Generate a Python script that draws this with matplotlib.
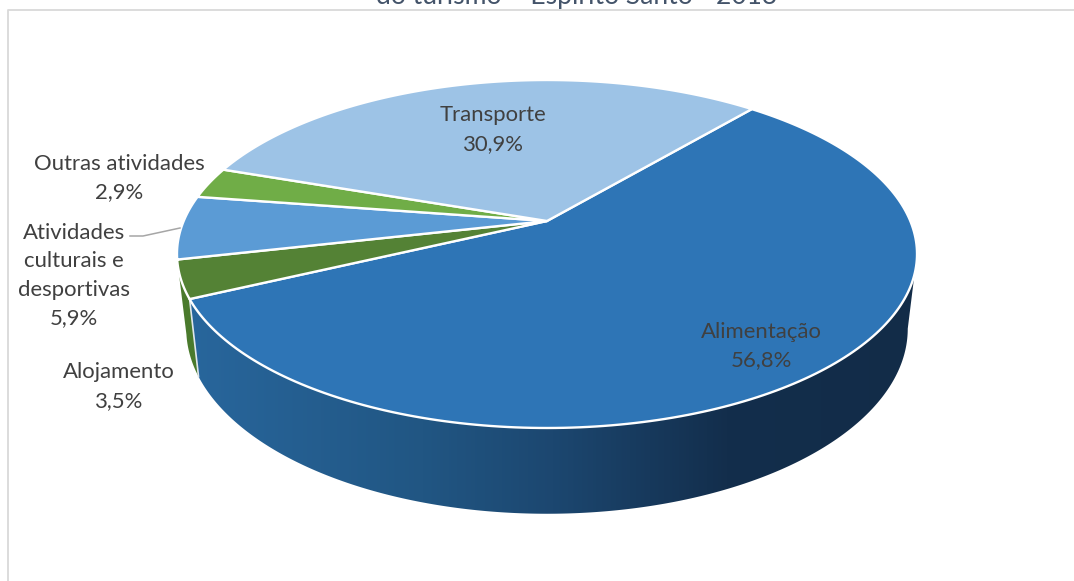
import numpy as np
import matplotlib
matplotlib.use('Agg')
import matplotlib.pyplot as plt
from matplotlib.colors import LinearSegmentedColormap
from matplotlib.patches import Polygon

plt.rcParams['font.family'] = ['Lato', 'DejaVu Sans']

# data, clockwise from the start angle
categories = ['Alimentação', 'Alojamento', 'Atividades\nculturais e\ndesportivas', 'Outras atividades', 'Transporte']
shares = [56.8, 3.5, 5.9, 2.9, 30.9]
value_labels = ['56,8%', '3,5%', '5,9%', '2,9%', '30,9%']
top_colors = ['#2e75b6', '#548235', '#5b9bd5', '#70ad47', '#9dc3e6']
wall_colors = ['#2e75b6', '#4a7a2c', '#5b9bd5', '#70ad47', '#9dc3e6']
title = 'do turismo – Espírito Santo - 2013'

START = 40.2   # degrees clockwise from the back of the pie
CX = 547


def project(ang, top=True):
    # perspective view of the pie disc, ang in degrees clockwise from the back
    a = np.radians(ang)
    u, v = np.sin(a), np.cos(a)
    w = 1 + 0.1897 * v
    if top:
        return CX + 363.3 * u / w, (221 - 125.8 * v) / w
    return CX + 354.2 * u / w, (293.6 - 122.7 * v) / w


fig = plt.figure(figsize=(10.74, 5.81), dpi=100)
ax = fig.add_axes([0, 0, 1, 1])

# chart frame, only left and top show in the crop
ax.plot([8, 8, 1074], [581, 10, 10], color='#d9d9d9', lw=1.3)
ax.text(576.5, 4, title, ha='center', va='baseline', fontsize=19.1, color='#44546a')

edges = START + np.cumsum([0] + shares) * 3.6
wall_end = np.degrees(np.arccos(-0.1897))

# side wall of the big slice, horizontal gradient clipped to its outline
gradient = LinearSegmentedColormap.from_list('wall', [
    (0.0, '#28669c'), (0.32, '#215683'), (0.5, '#1c4770'), (0.74, '#132e4c'), (1.0, '#122c48')])
angs = np.linspace(edges[0] if edges[0] > wall_end else wall_end, edges[1], 300)
angs = angs[angs >= wall_end]
xt, yt = project(angs)
xb, yb = project(angs, False)
outline = Polygon(np.c_[np.r_[xt, xb[::-1]], np.r_[yt, yb[::-1]]], closed=True,
                  transform=ax.transData, facecolor='none', edgecolor='none')
ax.add_patch(outline)
img = ax.imshow(np.linspace(0, 1, 512)[None, :], cmap=gradient, extent=[190, 917, 600, 200],
                aspect='auto', zorder=2)
img.set_clip_path(outline)

# side wall of the small green slice
angs = np.linspace(edges[1], min(edges[2], 360 - wall_end), 60)
xt, yt = project(angs)
xb, yb = project(angs, False)
ax.fill(np.r_[xt, xb[::-1]], np.r_[yt, yb[::-1]], color=wall_colors[1], lw=0, zorder=2)

# white seam between the two wall slices
x0, y0 = project(edges[1])
x1, y1 = project(edges[1], False)
ax.plot([x0, x1], [y0, y1], color='#dfe6ea', lw=1.2, zorder=3)

# top face
for i, (a0, a1) in enumerate(zip(edges[:-1], edges[1:])):
    xs, ys = project(np.linspace(a0, a1, 200))
    ax.fill(np.r_[CX, xs], np.r_[221, ys], facecolor=top_colors[i], edgecolor='white',
            lw=1.7, joinstyle='round', zorder=4)

# labels
text_color = '#404040'
fs = 15.9
spacing = 1.52
positions = [(761, 346), (119, 386.5), (74, 275.5), (119, 178), (493, 129.5)]
for name, val, (tx, ty) in zip(categories, value_labels, positions):
    ax.text(tx, ty, name + '\n' + val, ha='center', va='center', fontsize=fs,
            color=text_color, linespacing=spacing, zorder=5)

# leader line for the culture slice
ax.plot([130, 143, 180], [236, 236, 228], color='#a6a6a6', lw=1.1, zorder=5)

ax.set_xlim(0, 1074)
ax.set_ylim(581, 0)
ax.axis('off')

fig.savefig('out.png', dpi=100)
